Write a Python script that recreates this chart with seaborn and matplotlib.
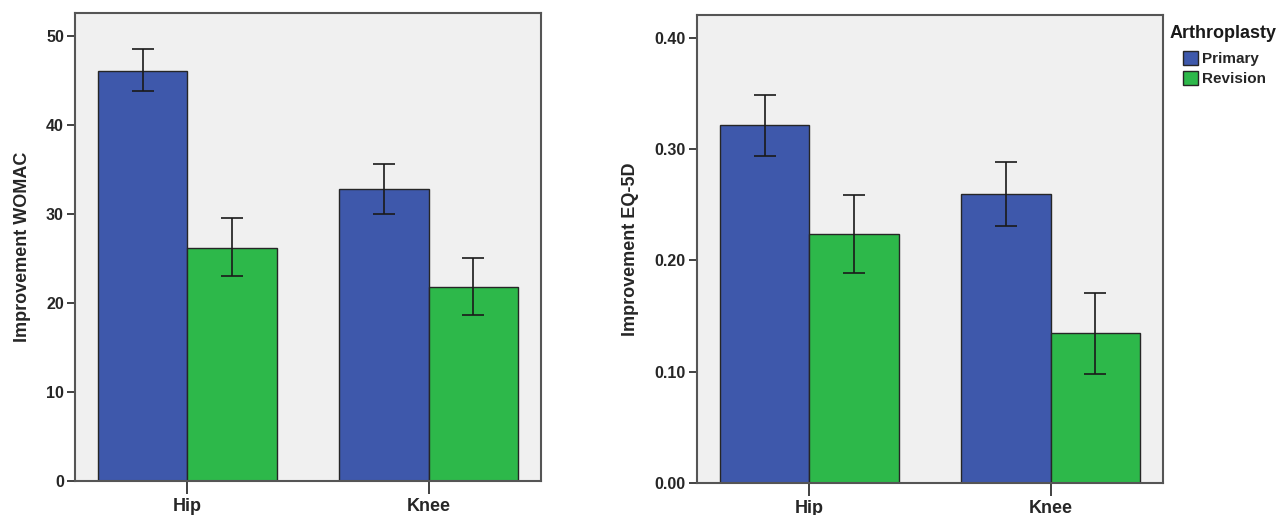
import matplotlib
matplotlib.use("Agg")
import matplotlib.pyplot as plt
import seaborn as sns
import pandas as pd
from matplotlib.patches import Patch

JOINTS = ["Hip", "Knee"]
GROUPS = ["Primary", "Revision"]

# mean improvement with 95% CI bounds, order: Hip, Knee
womac_primary = [46.1, 32.85]
womac_primary_lo = [43.8, 30.0]
womac_primary_hi = [48.5, 35.6]
womac_revision = [26.2, 21.85]
womac_revision_lo = [23.0, 18.7]
womac_revision_hi = [29.55, 25.1]

eq5d_primary = [0.322, 0.260]
eq5d_primary_lo = [0.294, 0.231]
eq5d_primary_hi = [0.349, 0.288]
eq5d_revision = [0.224, 0.1345]
eq5d_revision_lo = [0.189, 0.098]
eq5d_revision_hi = [0.259, 0.171]

womac_ticks = [0, 10, 20, 30, 40, 50]
eq5d_ticks = [0.0, 0.1, 0.2, 0.3, 0.4]

COLORS = {"Primary": "#3e58ab", "Revision": "#2db84a"}
EDGE = "#262626"


def make_frame(prim, prim_lo, prim_hi, rev, rev_lo, rev_hi):
    rows = []
    for i, j in enumerate(JOINTS):
        rows.append((j, "Primary", prim[i], prim_lo[i], prim_hi[i]))
        rows.append((j, "Revision", rev[i], rev_lo[i], rev_hi[i]))
    return pd.DataFrame(rows, columns=["joint", "group", "mean", "lo", "hi"])


def draw_panel(ax, df, ylabel, ticks, ytop, fmt):
    sns.barplot(data=df, x="joint", y="mean", hue="group", order=JOINTS,
                hue_order=GROUPS, palette=COLORS, width=0.74, saturation=1,
                edgecolor=EDGE, linewidth=1.0, errorbar=None, legend=False, ax=ax)
    for cont, grp in zip(ax.containers, GROUPS):
        for bar, joint in zip(cont, JOINTS):
            row = df[(df.joint == joint) & (df.group == grp)].iloc[0]
            x = bar.get_x() + bar.get_width() / 2
            ax.errorbar(x, row["mean"], yerr=[[row["mean"] - row["lo"]], [row["hi"] - row["mean"]]],
                        fmt="none", ecolor="#1a1a1a", elinewidth=1.2, capsize=8, capthick=1.2)
    ax.set_facecolor("#f0f0f0")
    ax.set_xlim(-0.465, 1.465)
    ax.set_ylim(0, ytop)
    ax.set_yticks(ticks)
    ax.set_yticklabels([fmt.format(t) for t in ticks], fontsize=11.5, fontweight="bold")
    ax.set_xticks(range(len(JOINTS)))
    ax.set_xticklabels(JOINTS, fontsize=13, fontweight="bold")
    ax.tick_params(axis="y", direction="out", length=6, width=1.3, color="#333333", pad=2)
    ax.tick_params(axis="x", direction="out", length=9, width=1.3, color="#333333", pad=3)
    ax.set_xlabel("")
    ax.set_ylabel(ylabel, fontsize=13, fontweight="bold", labelpad=11)
    for s in ax.spines.values():
        s.set_visible(True)
        s.set_color("#555555")
        s.set_linewidth(1.5)


sns.set_style("ticks")
plt.rcParams["font.family"] = ["Liberation Sans", "DejaVu Sans"]

fig = plt.figure(figsize=(12.82, 5.15), dpi=100)
ax1 = fig.add_axes([0.0585, 0.066, 0.3635, 0.9088])
ax2 = fig.add_axes([0.5437, 0.0621, 0.3635, 0.9088])

df_w = make_frame(womac_primary, womac_primary_lo, womac_primary_hi,
                  womac_revision, womac_revision_lo, womac_revision_hi)
df_e = make_frame(eq5d_primary, eq5d_primary_lo, eq5d_primary_hi,
                  eq5d_revision, eq5d_revision_lo, eq5d_revision_hi)

draw_panel(ax1, df_w, "Improvement WOMAC", womac_ticks, 52.6, "{:.0f}")
draw_panel(ax2, df_e, "Improvement EQ-5D", eq5d_ticks, 0.4205, "{:.2f}")

fig.text(1170 / 1282, 1 - 33 / 515, "Arthroplasty", fontsize=13, fontweight="bold",
         ha="left", va="center", color="#1a1a1a")
handles = [Patch(facecolor=COLORS[g], edgecolor=EDGE, linewidth=1.0, label=g) for g in GROUPS]
fig.legend(handles=handles, loc="upper left", bbox_to_anchor=(1183 / 1282, 1 - 51 / 515),
           frameon=False, prop={"size": 11, "weight": "bold"}, handlelength=0.95,
           handleheight=1.05, handletextpad=0.3, labelspacing=0.3, borderpad=0,
           borderaxespad=0)

fig.savefig("out.png", dpi=100)
